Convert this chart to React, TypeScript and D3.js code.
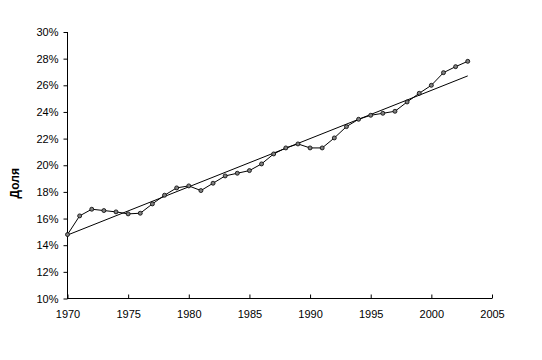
import React, { useRef, useEffect } from 'react';
import * as d3 from 'd3';

// Share by year
const years = [
  1970, 1971, 1972, 1973, 1974, 1975, 1976, 1977, 1978, 1979, 1980, 1981,
  1982, 1983, 1984, 1985, 1986, 1987, 1988, 1989, 1990, 1991, 1992, 1993,
  1994, 1995, 1996, 1997, 1998, 1999, 2000, 2001, 2002, 2003,
];
const shares = [
  14.8, 16.2, 16.7, 16.6, 16.5, 16.35, 16.4, 17.1, 17.75, 18.3, 18.45, 18.1,
  18.65, 19.2, 19.4, 19.6, 20.1, 20.85, 21.3, 21.6, 21.3, 21.3, 22.05, 22.9,
  23.45, 23.75, 23.9, 24.05, 24.75, 25.4, 26.0, 26.95, 27.4, 27.8,
];
const yTicks = [10, 12, 14, 16, 18, 20, 22, 24, 26, 28, 30];
const xTicks = [1970, 1975, 1980, 1985, 1990, 1995, 2000, 2005];
const yLabel = 'Доля';

const width = 542;
const height = 360;

const App = () => {
  const svgRef = useRef<SVGSVGElement>(null);

  useEffect(() => {
    const left = 67.5;
    const right = 492;
    const top = 32;
    const bottom = 298.5;

    const x = d3.scaleLinear().domain([1970, 2005]).range([left, right]);
    const y = d3.scaleLinear().domain([10, 30]).range([bottom, top]);

    const svg = d3.select(svgRef.current)
      .attr('width', width)
      .attr('height', height)
      .html('');

    svg.append('rect').attr('width', width).attr('height', height).attr('fill', '#fff');

    const font = 'Liberation Sans, Arial, sans-serif';

    // Y axis
    const yAxis = svg.append('g')
      .attr('transform', `translate(${left},0)`)
      .call(d3.axisLeft(y).tickValues(yTicks).tickSize(4).tickPadding(5)
        .tickFormat(d => `${d}%`));
    yAxis.select('.domain').attr('d', `M-0,${top}V${bottom + 0.5}`).attr('stroke', '#000');
    yAxis.selectAll('text').attr('font-family', font).attr('font-size', 11).attr('fill', '#000');
    yAxis.selectAll('line').attr('stroke', '#000');

    // X axis (ticks pointing inward)
    const xAxis = svg.append('g')
      .attr('transform', `translate(0,${bottom})`)
      .call(d3.axisBottom(x).tickValues(xTicks).tickSize(-4).tickPadding(12)
        .tickFormat(d3.format('d')));
    xAxis.select('.domain').attr('d', `M${left},0H${right}`).attr('stroke', '#000');
    xAxis.selectAll('text').attr('font-family', font).attr('font-size', 11).attr('fill', '#000');
    xAxis.selectAll('line').attr('stroke', '#000');

    // Axis title
    svg.append('text')
      .attr('transform', `translate(19,${(top + bottom) / 2 + 18}) rotate(-90)`)
      .attr('text-anchor', 'middle')
      .attr('font-family', font)
      .attr('font-weight', 'bold')
      .attr('font-size', 12)
      .text(yLabel);

    const points = years.map((yr, i) => [yr, shares[i]] as [number, number]);

    // Linear trend line
    const n = points.length;
    const mx = d3.mean(years)!;
    const my = d3.mean(shares)!;
    const slope = d3.sum(points, p => (p[0] - mx) * (p[1] - my)) /
      d3.sum(points, p => (p[0] - mx) ** 2);
    const icpt = my - slope * mx;
    const ends = [years[0], years[n - 1]];
    svg.append('line')
      .attr('x1', x(ends[0])).attr('y1', y(icpt + slope * ends[0]))
      .attr('x2', x(ends[1])).attr('y2', y(icpt + slope * ends[1]))
      .attr('stroke', '#000').attr('stroke-width', 1);

    // Data line
    const line = d3.line<[number, number]>().x(d => x(d[0])).y(d => y(d[1]));
    svg.append('path')
      .datum(points)
      .attr('d', line)
      .attr('fill', 'none')
      .attr('stroke', '#000')
      .attr('stroke-width', 1);

    svg.selectAll('.dot')
      .data(points)
      .enter()
      .append('circle')
        .attr('class', 'dot')
        .attr('cx', d => x(d[0]))
        .attr('cy', d => y(d[1]))
        .attr('r', 2)
        .attr('fill', '#808080')
        .attr('stroke', '#000')
        .attr('stroke-width', 0.8);
  }, []);

  return <svg ref={svgRef} style={{ position: 'absolute', left: 0, top: 0 }} />;
};

export default App;
